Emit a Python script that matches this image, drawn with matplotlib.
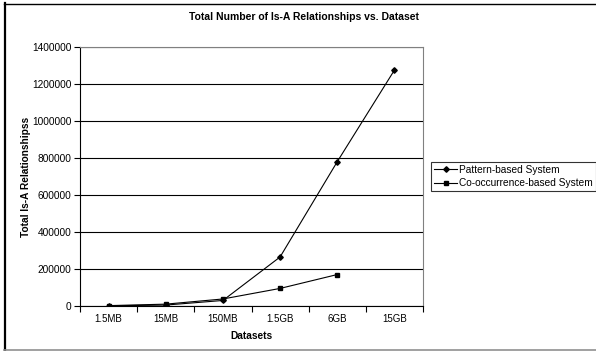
import matplotlib.pyplot as plt
from matplotlib.lines import Line2D

plt.rcParams['font.family'] = ['Liberation Sans', 'DejaVu Sans']

datasets = ['1.5MB', '15MB', '150MB', '1.5GB', '6GB', '15GB']
pattern = [1000, 5000, 30000, 265000, 780000, 1275000]
cooc = [2000, 10000, 38000, 95000, 170000]
yticks = [0, 200000, 400000, 600000, 800000, 1000000, 1200000, 1400000]

W, H = 596, 351
fig = plt.figure(figsize=(W / 100, H / 100), dpi=100)

# outer chart border (right side runs off the image)
def fline(xs, ys, color, lw):
    fig.lines.append(Line2D([v / W for v in xs], [1 - v / H for v in ys],
                            transform=fig.transFigure, color=color, linewidth=lw))

fline([4.5, 4.5], [3, 350], 'black', 1.6)
fline([4, 600], [3.5, 3.5], 'black', 1.0)
fline([4, 600], [349.5, 349.5], '#909090', 1.2)

ax = fig.add_axes([80 / W, 1 - 306 / H, 343 / W, 259 / H])
x = list(range(len(datasets)))
ax.plot(x, pattern, color='black', linewidth=0.8, marker='D', markersize=2.8,
        label='Pattern-based System')
ax.plot(x[:len(cooc)], cooc, color='black', linewidth=0.8, marker='s', markersize=3,
        label='Co-occurrence-based System')

ax.set_xlim(-0.5, len(datasets) - 0.5)
ax.set_ylim(0, 1400000)
ax.set_yticks(yticks)
ax.set_yticklabels([str(v) for v in yticks], fontsize=7.3)
ax.set_xticks(x)
ax.set_xticklabels(datasets, fontsize=7)
ax.tick_params(axis='x', length=0, pad=6)
ax.set_xticks([i + 0.5 for i in range(-1, len(datasets))], minor=True)
ax.tick_params(axis='x', which='minor', length=4, width=0.8, direction='out')
ax.tick_params(axis='y', length=4, width=0.8, direction='out', pad=2)
ax.grid(axis='y', color='black', linewidth=0.8)
ax.set_axisbelow(True)

for side in ['top', 'right']:
    ax.spines[side].set_color('#808080')
    ax.spines[side].set_linewidth(0.8)
ax.spines['left'].set_linewidth(0.8)
ax.spines['bottom'].set_linewidth(0.8)

ax.set_xlabel('Datasets', fontsize=7.3, fontweight='bold', labelpad=5)
ax.set_ylabel('Total Is-A Relationshipss', fontsize=7.3, fontweight='bold', labelpad=1)
fig.text(0.5 + 6 / W, 1 - 17 / H, 'Total Number of Is-A Relationships vs. Dataset',
         ha='center', va='center', fontsize=7.5, fontweight='bold')

leg = fig.legend(loc='upper left', bbox_to_anchor=(431 / W, 1 - 162 / H), fontsize=7.3,
                 frameon=True, fancybox=False, edgecolor='black', handlelength=2.3,
                 borderpad=0.3, labelspacing=0.3, handletextpad=0.2, borderaxespad=0)
leg.get_frame().set_linewidth(0.8)

fig.savefig('out.png', dpi=100)
